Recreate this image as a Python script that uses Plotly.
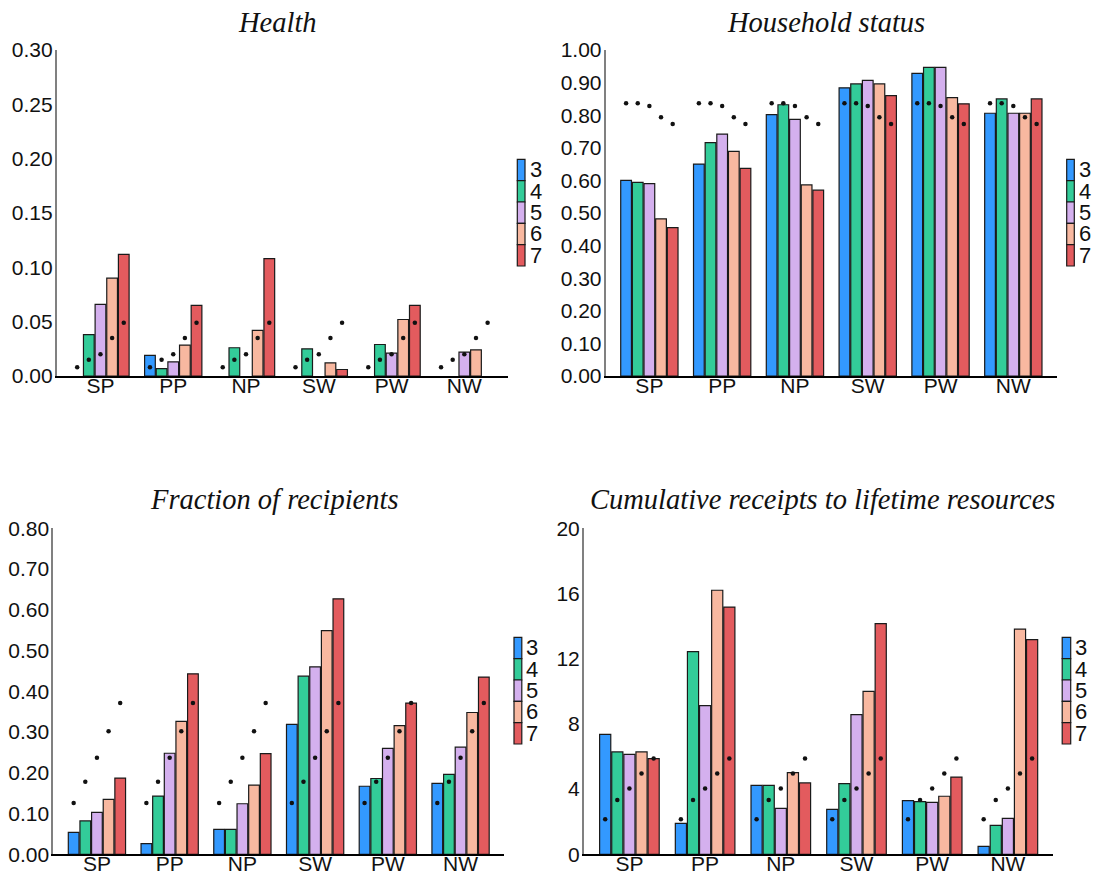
import plotly.graph_objects as go

W, H = 1097, 879

groups = ["SP", "PP", "NP", "SW", "PW", "NW"]
series = ["3", "4", "5", "6", "7"]
colors = ["#3399FF", "#33CC99", "#D4B0EE", "#F8B8A0", "#E35B5E"]

# Health
health_3 = [None, 0.019, None, None, None, None]
health_4 = [0.038, 0.0067, 0.026, 0.025, 0.029, None]
health_5 = [0.066, 0.013, None, None, 0.021, 0.022]
health_6 = [0.090, 0.0285, 0.042, 0.012, 0.052, 0.024]
health_7 = [0.112, 0.065, 0.108, 0.006, 0.065, None]
health_ref = [0.008, 0.015, 0.020, 0.035, 0.049]

# Household status
house_3 = [0.600, 0.650, 0.802, 0.884, 0.928, 0.806]
house_4 = [0.594, 0.716, 0.832, 0.896, 0.947, 0.850]
house_5 = [0.590, 0.742, 0.787, 0.907, 0.947, 0.806]
house_6 = [0.482, 0.689, 0.586, 0.896, 0.854, 0.806]
house_7 = [0.455, 0.637, 0.570, 0.860, 0.835, 0.850]
house_ref = [0.837, 0.837, 0.828, 0.794, 0.773]

# Fraction of recipients
frac_3 = [0.054, 0.026, 0.061, 0.319, 0.167, 0.174]
frac_4 = [0.082, 0.143, 0.061, 0.437, 0.186, 0.196]
frac_5 = [0.103, 0.248, 0.124, 0.460, 0.260, 0.263]
frac_6 = [0.135, 0.326, 0.170, 0.549, 0.316, 0.348]
frac_7 = [0.187, 0.443, 0.247, 0.627, 0.371, 0.435]
frac_ref = [0.126, 0.178, 0.237, 0.302, 0.371]

# Cumulative receipts to lifetime resources
cum_3 = [7.36, 1.90, 4.23, 2.76, 3.29, 0.49]
cum_4 = [6.28, 12.43, 4.23, 4.34, 3.23, 1.78]
cum_5 = [6.13, 9.12, 2.82, 8.57, 3.19, 2.21]
cum_6 = [6.28, 16.20, 5.01, 10.00, 3.56, 13.82]
cum_7 = [5.87, 15.17, 4.38, 14.15, 4.74, 13.17]
cum_ref = [2.15, 3.33, 4.03, 4.95, 5.87]

titles = ["Health", "Household status", "Fraction of recipients",
          "Cumulative receipts to lifetime resources"]
y_tops = [0.30, 1.00, 0.80, 20]
y_dticks = [0.05, 0.10, 0.10, 4]
y_formats = [".2f", ".2f", ".2f", "d"]

panels = [
    [health_3, health_4, health_5, health_6, health_7],
    [house_3, house_4, house_5, house_6, house_7],
    [frac_3, frac_4, frac_5, frac_6, frac_7],
    [cum_3, cum_4, cum_5, cum_6, cum_7],
]
refs = [health_ref, house_ref, frac_ref, cum_ref]


def fx(px):
    return px / W


def fy(px):
    return 1 - px / H


# layout geometry (pixels)
x_dom = [(56.8, 508.0), (605.7, 1057.0), (53.3, 504.2), (584.0, 1053.3)]
y_dom = [(376.0, 50.0), (376.0, 50.0), (854.3, 528.3), (854.3, 528.3)]
title_pos = [(277, 22.4), (826, 22.4), (274, 499.5), (822.6, 499.0)]
legend_pos = [(517.3, 525.0, 159.3, 266.0), (1066.7, 1074.3, 159.3, 266.0),
              (514.0, 521.8, 637.3, 744.0), (1062.2, 1070.7, 637.3, 744.0)]

fig = go.Figure()
tick_font = dict(family="Liberation Sans, Arial, sans-serif", size=21, color="#111")

shapes = []
annotations = []
for p in range(4):
    xa = "x" if p == 0 else f"x{p+1}"
    ya = "y" if p == 0 else f"y{p+1}"
    for k, s in enumerate(series):
        fig.add_trace(go.Bar(
            x=groups, y=panels[p][k], name=s, xaxis=xa, yaxis=ya,
            offsetgroup=s, marker=dict(color=colors[k], line=dict(color="#1a1a1a", width=1.2)),
            showlegend=False,
        ))
    for k, s in enumerate(series):
        fig.add_trace(go.Scatter(
            x=groups, y=[refs[p][k]] * len(groups), mode="markers", xaxis=xa, yaxis=ya,
            offsetgroup=s, marker=dict(color="#111", size=4.5), showlegend=False,
            name=s,
        ))
    ax_key = "xaxis" if p == 0 else f"xaxis{p+1}"
    ay_key = "yaxis" if p == 0 else f"yaxis{p+1}"
    fig.update_layout(**{
        ax_key: dict(domain=[fx(x_dom[p][0]), fx(x_dom[p][1])], anchor=ya,
                     type="category", range=[-0.6, 5.6], showline=True,
                     linecolor="#000", linewidth=1.6, ticks="", showgrid=False,
                     zeroline=False, tickfont=tick_font, automargin=False,
                     ticklabelstandoff=-10),
        ay_key: dict(domain=[fy(y_dom[p][0]), fy(y_dom[p][1])], anchor=xa,
                     range=[0, y_tops[p]], dtick=y_dticks[p], tick0=0,
                     tickformat=y_formats[p], showline=True, linecolor="#808080",
                     linewidth=2, ticks="", showgrid=False, zeroline=False,
                     tickfont=tick_font, automargin=False, ticklabelstandoff=-2),
    })
    annotations.append(dict(
        text=f"<i>{titles[p]}</i>", x=fx(title_pos[p][0]), y=fy(title_pos[p][1]),
        xref="paper", yref="paper", xanchor="center", yanchor="middle", showarrow=False,
        font=dict(family="Liberation Serif, Times New Roman, serif", size=28.5, color="#111"),
    ))
    lx0, lx1, ly0, ly1 = legend_pos[p]
    cell = (ly1 - ly0) / len(series)
    for k, s in enumerate(series):
        shapes.append(dict(
            type="rect", xref="paper", yref="paper",
            x0=fx(lx0), x1=fx(lx1), y0=fy(ly0 + k * cell), y1=fy(ly0 + (k + 1) * cell),
            fillcolor=colors[k], line=dict(color="#1a1a1a", width=1.2),
        ))
        annotations.append(dict(
            text=s, x=fx(lx1 + 2.5), y=fy(ly0 + (k + 0.5) * cell), xref="paper", yref="paper",
            xanchor="left", yanchor="middle", showarrow=False,
            font=dict(family="Liberation Sans, Arial, sans-serif", size=22, color="#111"),
        ))

fig.update_layout(
    template="none",
    width=W, height=H,
    margin=dict(l=0, r=0, t=0, b=0, pad=0),
    paper_bgcolor="white", plot_bgcolor="white",
    barmode="group", bargap=0.2, bargroupgap=0.08,
    scattermode="group", scattergap=0.2,
    showlegend=False,
    shapes=shapes, annotations=annotations,
)

fig.write_html("out.html")
